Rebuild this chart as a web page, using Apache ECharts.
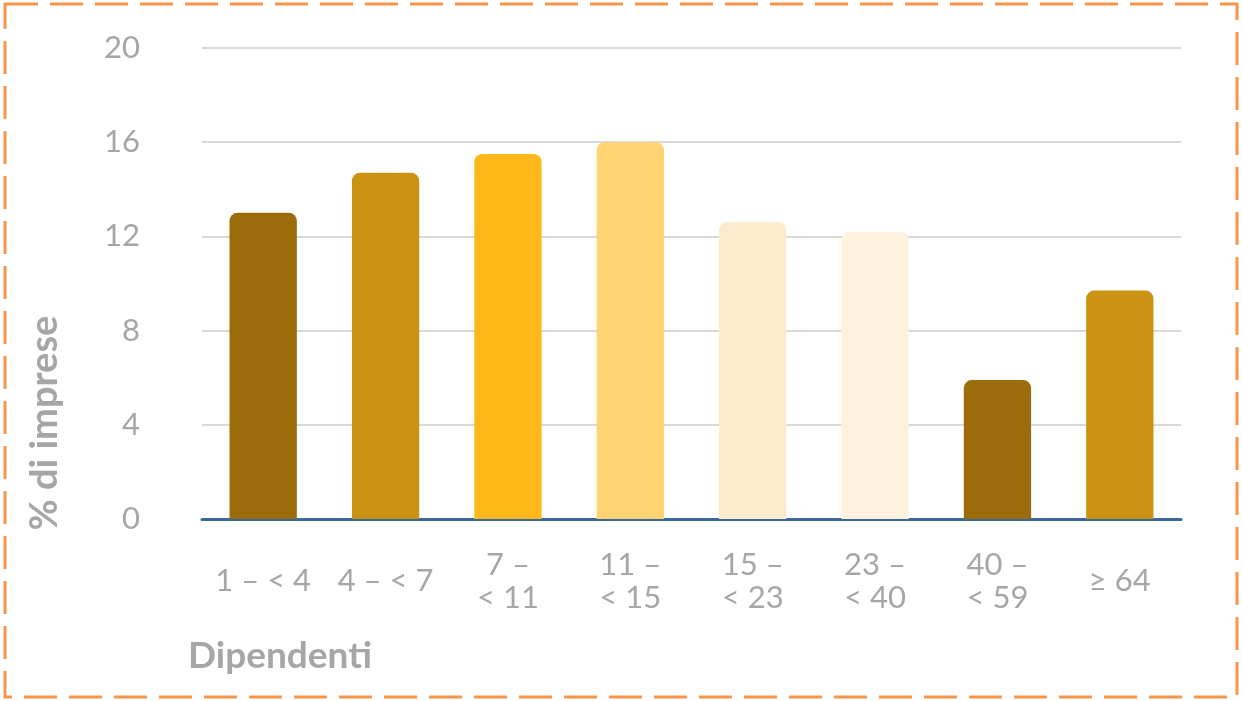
<!DOCTYPE html>
<html>
<head>
<meta charset="utf-8">
<script src="https://cdn.jsdelivr.net/npm/echarts@6/dist/echarts.min.js"></script>
<style>
html,body{margin:0;padding:0;background:#fff;}
#c{width:1242px;height:701px;}
</style>
</head>
<body>
<div id="c"></div>
<script>
const categories = ['1 – < 4', '4 – < 7', '7 –\n< 11', '11 –\n< 15', '15 –\n< 23', '23 –\n< 40', '40 –\n< 59', '≥ 64'];
const values = [13.0, 14.7, 15.5, 16.0, 12.6, 12.2, 5.9, 9.7];
const barColors = ['#9B6D0A', '#CC9212', '#FFB81A', '#FFD372', '#FBEBCC', '#FDF2DE', '#9B6D0A', '#CC9212'];
const yTicks = [0, 4, 8, 12, 16, 20];

const chart = echarts.init(document.getElementById('c'));
chart.setOption({
  animation: false,
  grid: {left: 202, right: 61, top: 48, bottom: 182},
  xAxis: {
    type: 'category',
    data: categories,
    axisLine: {lineStyle: {color: '#3B679A', width: 3}},
    axisTick: {show: false},
    axisLabel: {
      color: '#A6A6A6', fontFamily: 'Lato', fontSize: 31, lineHeight: 33,
      margin: 62, verticalAlign: 'middle', interval: 0
    }
  },
  yAxis: {
    type: 'value',
    min: yTicks[0], max: yTicks[yTicks.length - 1], interval: 4,
    axisLine: {show: false},
    axisTick: {show: false},
    splitLine: {lineStyle: {color: '#D9D9D9', width: 2}},
    axisLabel: {color: '#A6A6A6', fontFamily: 'Lato', fontSize: 31, margin: 62}
  },
  series: [{
    type: 'bar',
    data: values.map((v, i) => ({value: v, itemStyle: {color: barColors[i]}})),
    barWidth: '55%',
    itemStyle: {borderRadius: [8, 8, 0, 0]}
  }],
  graphic: [
    {type: 'rect', shape: {x: 5, y: 4, width: 1232, height: 693},
     style: {fill: 'none', stroke: '#F7964A', lineWidth: 3, lineDash: [33, 12]}},
    {type: 'text', x: 188, y: 656,
     style: {text: 'Dipendenti', fill: '#A6A6A6', font: 'bold 37px Lato', align: 'left', verticalAlign: 'middle'}},
    {type: 'text', x: 45, y: 423, rotation: Math.PI / 2,
     style: {text: '% di imprese', fill: '#A6A6A6', font: 'bold 38px Lato', align: 'center', verticalAlign: 'middle'}}
  ]
});
</script>
</body>
</html>
